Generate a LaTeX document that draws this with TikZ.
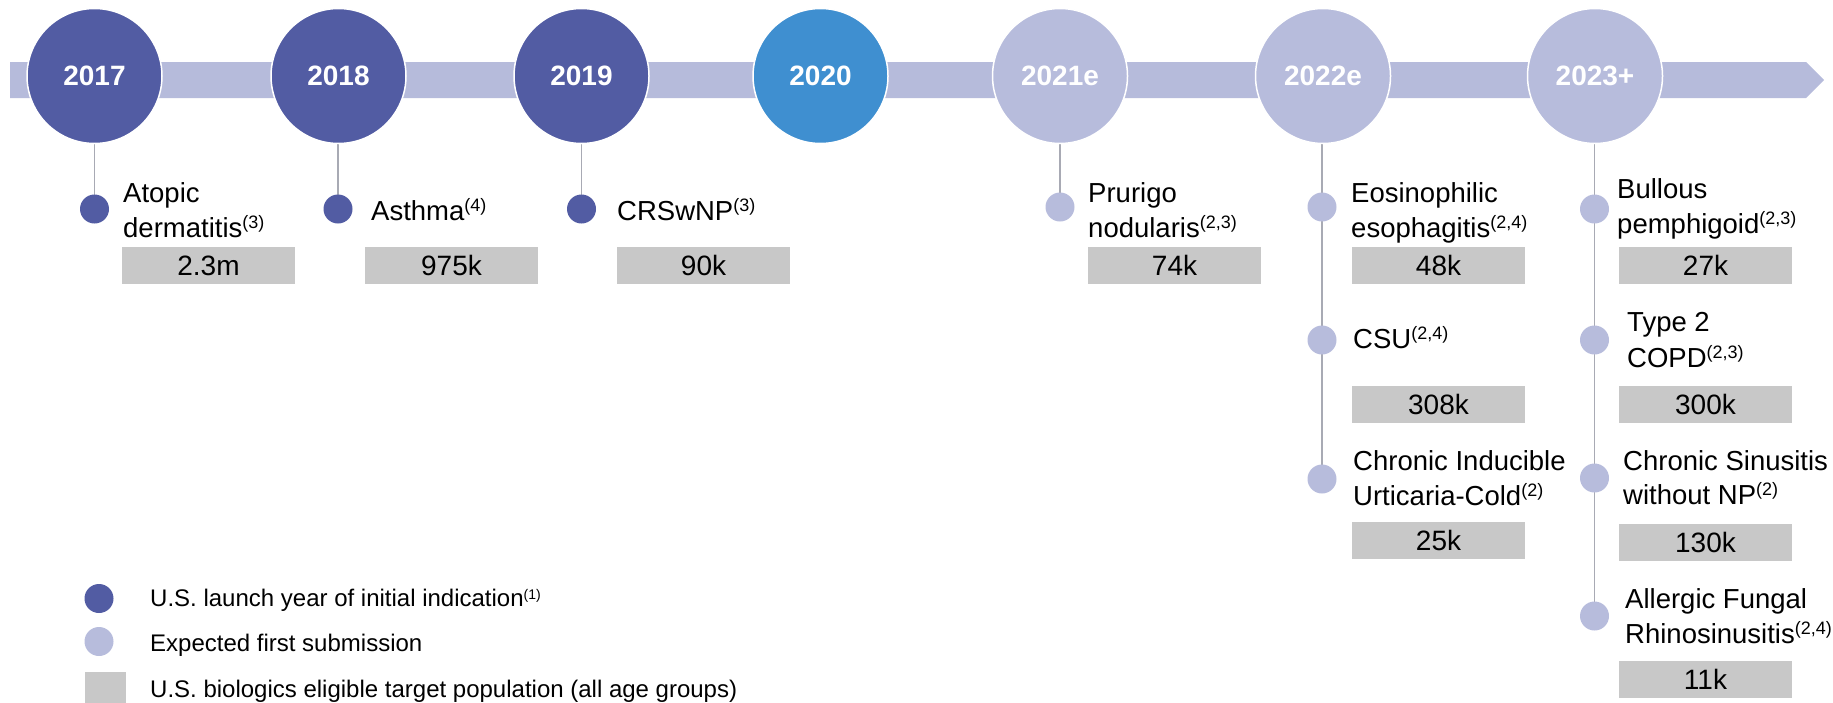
\documentclass[tikz,border=0pt]{standalone}
\usepackage{fontspec}
\setmainfont{Liberation Sans}
\usetikzlibrary{backgrounds}
\definecolor{bandc}{HTML}{B6BBDB}
\definecolor{darkc}{HTML}{525CA3}
\definecolor{bluec}{HTML}{3F8FD0}
\definecolor{lightc}{HTML}{B7BCDC}
\definecolor{boxc}{HTML}{C8C8C8}
\definecolor{stemc}{HTML}{A8AAB4}
% footnote markers
\newcommand\fnote[1]{\raisebox{9pt}{\fontsize{18}{18}\selectfont(#1)}}
\newcommand\lgnote[1]{\raisebox{7pt}{\fontsize{14}{14}\selectfont(#1)}}
\begin{document}
\begin{tikzpicture}[x=1pt,y=-1pt,
  yearc/.style={circle, minimum size=135pt, inner sep=0pt, draw=white, line width=1.5pt,
    text=white, font=\fontsize{28}{28}\selectfont\bfseries},
  dot/.style={circle, minimum size=29pt, inner sep=0pt},
  darkdot/.style={dot, fill=darkc},
  lightdot/.style={dot, fill=lightc},
  valbox/.style={fill=boxc, minimum width=173pt, minimum height=37pt, inner sep=0pt,
    font=\fontsize{28}{28}\selectfont},
  lbl/.style={anchor=base west, inner sep=0pt, font=\fontsize{27.5}{33}\selectfont},
  lgd/.style={anchor=base west, inner sep=0pt, font=\fontsize{24}{28}\selectfont},
  stem/.style={draw=stemc, line width=1.8pt}
]
\useasboundingbox (0,0) rectangle (1833,702);

% timeline band with pointed end
\fill[bandc] (10,62) -- (1806,62) -- (1824,80) -- (1806,98) -- (10,98) -- cycle;

% year circles
\node[yearc, fill=darkc]  (c17) at (94.5,76)  {2017};
\node[yearc, fill=darkc]  (c18) at (338.5,76) {2018};
\node[yearc, fill=darkc]  (c19) at (581.5,76) {2019};
\node[yearc, fill=bluec]  (c20) at (820.5,76) {2020};
\node[yearc, fill=lightc] (c21) at (1060,76)  {2021e};
\node[yearc, fill=lightc] (c22) at (1323,76)  {2022e};
\node[yearc, fill=lightc] (c23) at (1595,76)  {2023+};

% indication dots
\node[darkdot]  (d17)  at (94.5,209) {};
\node[darkdot]  (d18)  at (338,209)  {};
\node[darkdot]  (d19)  at (581.5,209) {};
\node[lightdot] (d21)  at (1060,207) {};
\node[lightdot] (d22a) at (1322,207) {};
\node[lightdot] (d22b) at (1322,340) {};
\node[lightdot] (d22c) at (1322,479) {};
\node[lightdot] (d23a) at (1594.5,209) {};
\node[lightdot] (d23b) at (1594.5,340) {};
\node[lightdot] (d23c) at (1594.5,478) {};
\node[lightdot] (d23d) at (1594.5,616) {};

% stems from each year down to its last indication
\begin{pgfonlayer}{background}
\draw[stem] (c17.south -| d17.center) -- (d17.center);
\draw[stem] (c18.south -| d18.center) -- (d18.center);
\draw[stem] (c19.south -| d19.center) -- (d19.center);
\draw[stem] (c21.south -| d21.center) -- (d21.center);
\draw[stem] (c22.south -| d22c.center) -- (d22c.center);
\draw[stem] (c23.south -| d23d.center) -- (d23d.center);
\end{pgfonlayer}

% indication names
\node[lbl] (t17a) at (123,202) {Atopic};
\node[lbl] (t17b) at (123,237) {dermatitis\fnote{3}};
\node[lbl] (t18)  at (371,220) {Asthma\fnote{4}};
\node[lbl] (t19)  at (617,220) {CRSwNP\fnote{3}};
\node[lbl] (t21a) at (1088,202) {Prurigo};
\node[lbl] (t21b) at (1088,237) {nodularis\fnote{2,3}};
\node[lbl] (t22a) at (1351,202) {Eosinophilic};
\node[lbl] (t22b) at (1351,237) {esophagitis\fnote{2,4}};
\node[lbl] (t22c) at (1353,348) {CSU\fnote{2,4}};
\node[lbl] (t22d) at (1353,470) {Chronic Inducible};
\node[lbl] (t22e) at (1353,505) {Urticaria-Cold\fnote{2}};
\node[lbl] (t23a) at (1617,198) {Bullous};
\node[lbl] (t23b) at (1617,233) {pemphigoid\fnote{2,3}};
\node[lbl] (t23c) at (1627,331) {Type 2};
\node[lbl] (t23d) at (1627,367) {COPD\fnote{2,3}};
\node[lbl] (t23e) at (1623,470) {Chronic Sinusitis};
\node[lbl] (t23f) at (1623,504) {without NP\fnote{2}};
\node[lbl] (t23g) at (1625,608) {Allergic Fungal};
\node[lbl] (t23h) at (1625,643) {Rhinosinusitis\fnote{2,4}};

% target population boxes
\node[valbox] (b17)  at (208.5,265.5)  {2.3m};
\node[valbox] (b18)  at (451.5,265.5)  {975k};
\node[valbox] (b19)  at (703.5,265.5)  {90k};
\node[valbox] (b21)  at (1174.5,265.5) {74k};
\node[valbox] (b22a) at (1438.5,265.5) {48k};
\node[valbox] (b22b) at (1438.5,404)   {308k};
\node[valbox] (b22c) at (1438.5,540)   {25k};
\node[valbox] (b23a) at (1705.5,265.5) {27k};
\node[valbox] (b23b) at (1705.5,404)   {300k};
\node[valbox] (b23c) at (1705.5,542.5) {130k};
\node[valbox] (b23d) at (1705.5,679.5) {11k};

% legend
\node[darkdot]  (l1) at (99,598.5) {};
\node[lgd] (l1t) at (150,606) {U.S. launch year of initial indication\lgnote{1}};
\node[lightdot] (l2) at (99,641.5) {};
\node[lgd] (l2t) at (150,651) {Expected first submission};
\node[fill=boxc, minimum size=41pt, inner sep=0pt] (l3) at (105.5,692.5) {};
\node[lgd] (l3t) at (150,697) {U.S. biologics eligible target population (all age groups)};
\end{tikzpicture}
\end{document}
